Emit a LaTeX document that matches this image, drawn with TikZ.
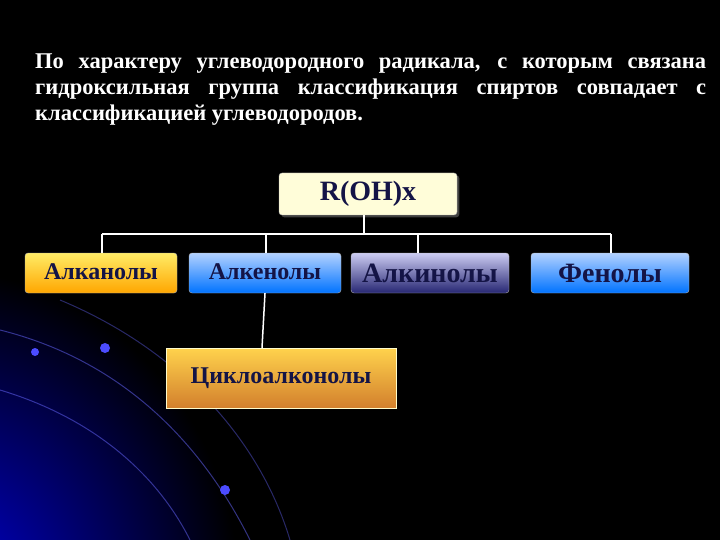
\documentclass[tikz,border=0pt]{standalone}
\usepackage{fontspec}
\setmainfont{Liberation Serif}
\usetikzlibrary{shadows}
\definecolor{txt}{RGB}{20,20,70}
\begin{document}
\begin{tikzpicture}[x=1pt,y=-1pt,
 box/.style={draw=gray!60,rounded corners=3pt,font=\bfseries,text=txt,inner sep=0pt},
 link/.style={draw=white,line width=1.5pt}]
\useasboundingbox (0,0) rectangle (720,540);
\fill[black] (0,0) rectangle (720,540);
\begin{scope}
\clip (0,0) rectangle (720,540);
\shade[inner color=blue!85!black,outer color=black] (-60,600) ellipse (300 and 330);
\draw[blue!60!white,opacity=0.5,line width=1pt] (0,330) .. controls (120,360) and (200,440) .. (250,540);
\draw[blue!60!white,opacity=0.5,line width=1pt] (0,390) .. controls (100,420) and (160,480) .. (190,540);
\draw[blue!60!white,opacity=0.4,line width=1pt] (60,300) .. controls (180,350) and (260,440) .. (290,540);
\fill[blue!70!white] (35,352) circle (4);
\fill[blue!70!white] (105,348) circle (5);
\fill[blue!70!white] (225,490) circle (5);
\end{scope}
\node[text=white,font=\bfseries\fontsize{22.5}{26}\selectfont,text width=671pt,align=justify,anchor=north west,inner sep=0pt] (para) at (35,54)
{По характеру углеводородного радикала, с которым связана гидроксильная группа классификация спиртов совпадает с классификацией углеводородов.};
\node[box,fill=yellow!15,minimum width=178pt,minimum height=42pt,font=\bfseries\fontsize{28}{30}\selectfont,drop shadow] (r) at (368,194) {R(OH)x};
\node[box,top color=orange!25!yellow!60,bottom color=orange!70!yellow,minimum width=152pt,minimum height=40pt,font=\bfseries\fontsize{24}{26}\selectfont] (a1) at (101,273) {\raisebox{3pt}{Алканолы}};
\node[box,top color=cyan!40!blue!30,bottom color=blue!55!cyan,minimum width=152pt,minimum height=40pt,font=\bfseries\fontsize{24}{26}\selectfont] (a2) at (265,273) {\raisebox{3pt}{Алкенолы}};
\node[box,top color=gray!40!blue!25,bottom color=gray!50!blue!60!black,minimum width=158pt,minimum height=40pt,font=\bfseries\fontsize{28}{30}\selectfont] (a3) at (430,273) {Алкинолы};
\node[box,top color=cyan!40!blue!30,bottom color=blue!55!cyan,minimum width=158pt,minimum height=40pt,font=\bfseries\fontsize{28}{30}\selectfont] (a4) at (610,273) {Фенолы};
\node[box,rounded corners=0pt,draw=white!80!yellow,top color=orange!50!yellow!70,bottom color=brown!70!orange,minimum width=230pt,minimum height=60pt,font=\bfseries\fontsize{24}{26}\selectfont] (c) at (281,378) {\raisebox{-7pt}{Циклоалконолы}};
\coordinate (j) at (364,234);
\draw[link] (r.south -| j) -- (j);
\draw[link] (102,234) -- (611,234);
\draw[link] (102,234) -- (a1.north -| 102,0);
\draw[link] (266,234) -- (a2.north -| 266,0);
\draw[link] (418,234) -- (a3.north -| 418,0);
\draw[link] (611,234) -- (a4.north -| 611,0);
\draw[link] (a2.south) -- (c.north -| 262,0);
\end{tikzpicture}
\end{document}
